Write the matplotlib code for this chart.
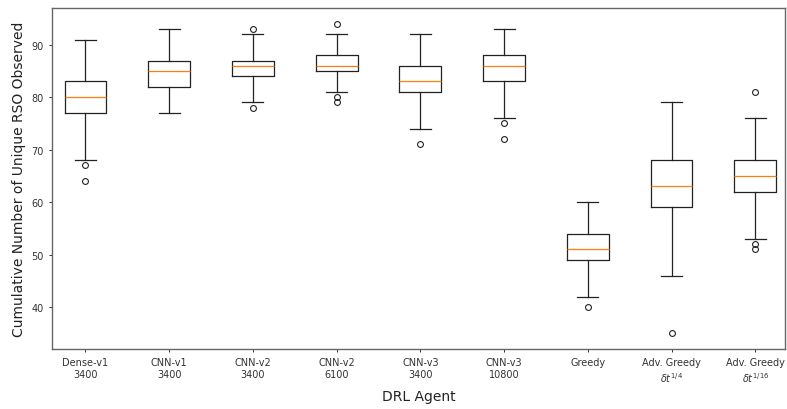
import matplotlib
matplotlib.use("Agg")
import matplotlib.pyplot as plt

# Agents compared on the x axis
agents = [
    "Dense-v1\n3400", "CNN-v1\n3400", "CNN-v2\n3400", "CNN-v2\n6100",
    "CNN-v3\n3400", "CNN-v3\n10800", "Greedy",
    "Adv. Greedy\n$\\delta t^{1/4}$", "Adv. Greedy\n$\\delta t^{1/16}$",
]

# Box-plot summary statistics per agent
whisker_low = [68, 77, 79, 81, 74, 76, 42, 46, 53]
q1 = [77, 82, 84, 85, 81, 83, 49, 59, 62]
median = [80, 85, 86, 86, 83, 86, 51, 63, 65]
q3 = [83, 87, 87, 88, 86, 88, 54, 68, 68]
whisker_high = [91, 93, 92, 92, 92, 93, 60, 79, 76]
outliers = [
    [67, 64],
    [],
    [93, 78],
    [94, 80, 79],
    [71],
    [75, 72],
    [40],
    [35],
    [81, 52, 51],
]

stats = []
for i in range(len(agents)):
    stats.append(dict(
        med=median[i], q1=q1[i], q3=q3[i],
        whislo=whisker_low[i], whishi=whisker_high[i],
        fliers=outliers[i], label=agents[i],
    ))

fig = plt.figure(figsize=(7.87, 4.10), dpi=100)
ax = fig.add_axes([0.066, 0.146, 0.932, 0.832])

lw = 0.9
ax.bxp(
    stats,
    widths=0.5,
    boxprops=dict(color="#222222", linewidth=lw),
    whiskerprops=dict(color="#222222", linewidth=lw),
    capprops=dict(color="#222222", linewidth=lw),
    medianprops=dict(color="#ff7f0e", linewidth=lw),
    flierprops=dict(marker="o", markersize=4.2, markerfacecolor="none",
                    markeredgecolor="#222222", markeredgewidth=0.8),
)

ax.set_xlim(0.6, 9.36)
ax.set_ylim(32, 97)
ax.set_yticks([40, 50, 60, 70, 80, 90])
ax.tick_params(axis="both", labelsize=7, length=2.5, width=0.7, colors="#333333")
ax.set_xlabel("DRL Agent", fontsize=10, color="#222222")
ax.set_ylabel("Cumulative Number of Unique RSO Observed", fontsize=10, color="#222222")
for sp in ax.spines.values():
    sp.set_color("#666666")
    sp.set_linewidth(1.0)

fig.savefig("out.png", dpi=100)
